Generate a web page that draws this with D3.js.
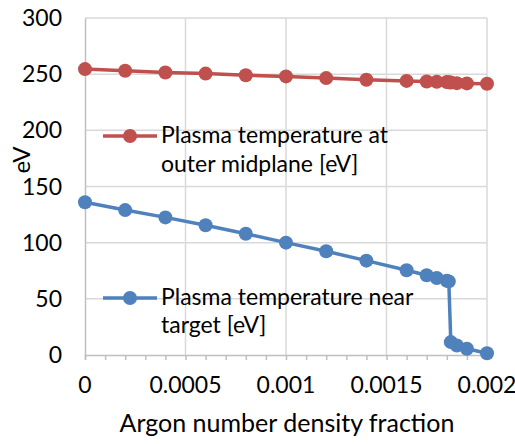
<!DOCTYPE html>
<html><head><meta charset="utf-8">
<script src="https://cdn.jsdelivr.net/npm/d3@7"></script>
<style>body{margin:0;background:#fff;} text{font-family:Lato,"Open Sans",sans-serif;fill:#000;}</style>
</head><body>
<svg id="c" width="515" height="444"></svg>
<script>
const xValues = [0,0.0002,0.0004,0.0006,0.0008,0.001,0.0012,0.0014,0.0016,0.0017,0.00175,0.0018,0.00181,0.00182,0.00185,0.0019,0.002];
const midplaneT = [254.5,253,251.5,250.5,249,248,246.5,245,244,243.5,243.2,243,242.8,242.5,242,241.8,241.5];
const targetT   = [136,129,122.5,115.5,108,100,92.3,84,75.5,71,68.5,66,65.5,11.5,8.5,5.5,1.5];
const xTicks = [0,0.0005,0.001,0.0015,0.002];
const xTickLabels = ["0","0.0005","0.001","0.0015","0.002"];
const yTicks = [0,50,100,150,200,250,300];
const seriesNames = [["Plasma temperature at","outer midplane [eV]"],["Plasma temperature near","target [eV]"]];
const colors = ["#C0504D","#4F81BD"];

const svg = d3.select("#c");
const x = d3.scaleLinear().domain([0,0.002]).range([85,487]);
const y = d3.scaleLinear().domain([0,300]).range([355,18]);
const grid = "#d9d9d9";

// gridlines
svg.append("g").selectAll("line").data(yTicks.filter(d=>d>0)).join("line")
  .attr("x1",x(0)).attr("x2",x(0.002)).attr("y1",d=>y(d)).attr("y2",d=>y(d))
  .attr("stroke",grid).attr("stroke-width",1.5);
svg.append("g").selectAll("line").data(xTicks.filter(d=>d>0)).join("line")
  .attr("x1",d=>x(d)).attr("x2",d=>x(d)).attr("y1",y(0)).attr("y2",y(300))
  .attr("stroke",grid).attr("stroke-width",1.5);

// axes
const xAxis = d3.axisBottom(x).tickValues(d3.range(0,21).map(i=>i*0.0001)).tickSize(5).tickFormat("");
const gx = svg.append("g").attr("transform",`translate(0,${y(0)})`).call(xAxis);
gx.select(".domain").attr("stroke","#bfbfbf").attr("stroke-width",1.5);
gx.selectAll(".tick line").attr("stroke","#bfbfbf").attr("stroke-width",1.5);
const yAxis = d3.axisLeft(y).tickValues(yTicks).tickSize(0).tickFormat("");
const gy = svg.append("g").attr("transform",`translate(${x(0)},0)`).call(yAxis);
gy.select(".domain").attr("stroke","#bfbfbf").attr("stroke-width",1.5);

// tick labels
svg.append("g").selectAll("text").data(xTicks).join("text")
  .attr("x",d=>x(d)).attr("y",393).attr("text-anchor","middle").attr("font-size",23)
  .text((d,i)=>xTickLabels[i]);
svg.append("g").selectAll("text").data(yTicks).join("text")
  .attr("x",62).attr("y",d=>y(d)+8).attr("text-anchor","end").attr("font-size",23)
  .text(d=>d);

// axis titles
svg.append("text").attr("x",287).attr("y",432).attr("text-anchor","middle").attr("font-size",25)
  .text("Argon number density fraction");
svg.append("text").attr("transform","translate(30,160) rotate(-90)").attr("text-anchor","middle").attr("font-size",24)
  .text("eV");

// series
const line = d3.line().x(d=>x(d[0])).y(d=>y(d[1]));
[midplaneT,targetT].forEach((vals,k)=>{
  const pts = xValues.map((v,i)=>[v,vals[i]]);
  svg.append("path").datum(pts).attr("d",line).attr("fill","none")
    .attr("stroke",colors[k]).attr("stroke-width",3.5).attr("stroke-linejoin","round");
  svg.append("g").selectAll("circle").data(pts).join("circle")
    .attr("cx",d=>x(d[0])).attr("cy",d=>y(d[1])).attr("r",7).attr("fill",colors[k]);
});

// legends
const legY = [136,298];
const legBase = [[143,172],[305,333]];
seriesNames.forEach((lines,k)=>{
  const g = svg.append("g");
  g.append("line").attr("x1",103).attr("x2",157).attr("y1",legY[k]).attr("y2",legY[k])
    .attr("stroke",colors[k]).attr("stroke-width",3.5);
  g.append("circle").attr("cx",130).attr("cy",legY[k]).attr("r",7).attr("fill",colors[k]);
  lines.forEach((t,j)=>{
    g.append("text").attr("x",161).attr("y",legBase[k][j]).attr("font-size",23).text(t);
  });
});
</script>
</body></html>
